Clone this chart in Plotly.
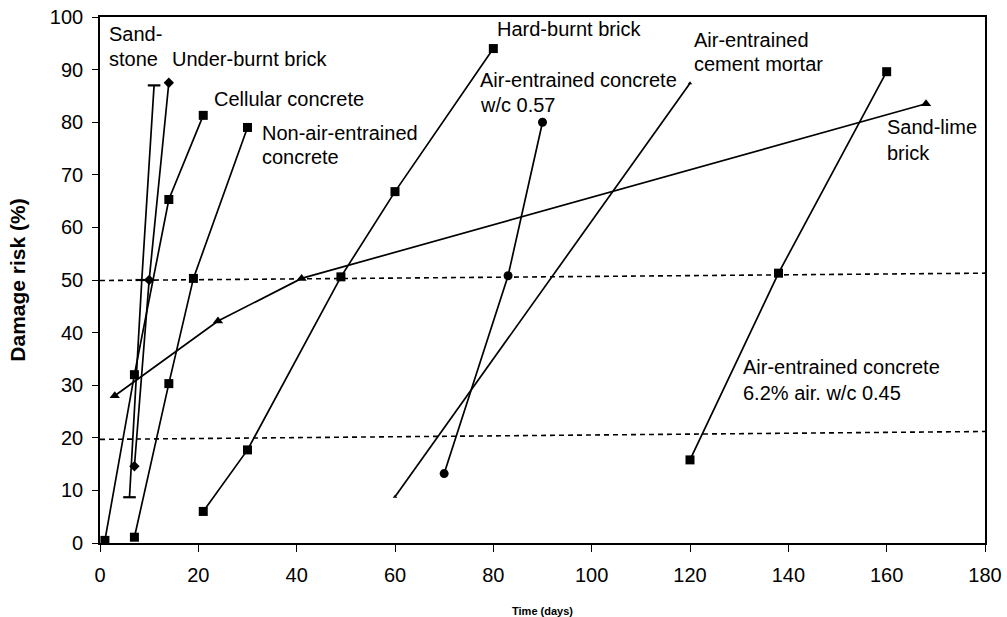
import plotly.graph_objects as go

# ---- data (time in days, damage risk in %) ----
sandstone_x = [6, 8.5, 11]
sandstone_y = [8.7, 50, 87]

underburnt_x = [7, 10, 14]
underburnt_y = [14.6, 50, 87.5]

cellular_x = [1, 7, 14, 21]
cellular_y = [0.5, 32, 65.3, 81.3]

nonair_x = [7, 14, 19, 30]
nonair_y = [1.1, 30.3, 50.3, 79]

sandlime_x = [3, 24, 41, 168]
sandlime_y = [28, 42.2, 50.3, 83.5]

hardburnt_x = [21, 30, 49, 60, 80]
hardburnt_y = [6, 17.7, 50.6, 66.8, 94]

ae057_x = [70, 83, 90]
ae057_y = [13.2, 50.8, 80]

mortar_x = [60, 120]
mortar_y = [8.8, 87.4]

ae045_x = [120, 138, 160]
ae045_y = [15.8, 51.3, 89.6]

thr_x = [0, 180]
thr50_y = [49.9, 51.3]
thr20_y = [19.7, 21.2]

x_ticks = [0, 20, 40, 60, 80, 100, 120, 140, 160, 180]
y_ticks = [0, 10, 20, 30, 40, 50, 60, 70, 80, 90, 100]

FONT = "Liberation Sans, Arial, sans-serif"
LW = 1.7

fig = go.Figure()

# threshold dashed lines
for ty in (thr50_y, thr20_y):
    fig.add_trace(go.Scatter(x=thr_x, y=ty, mode="lines",
                             line=dict(color="black", width=1.6, dash="5px,4px"),
                             hoverinfo="skip"))

def series(x, y, symbol, size, mline=None):
    m = dict(symbol=symbol, size=size, color="black")
    if mline:
        m["line"] = mline
    fig.add_trace(go.Scatter(x=x, y=y, mode="lines+markers",
                             line=dict(color="black", width=LW), marker=m))

series(sandstone_x, sandstone_y, "line-ew", 9, dict(color="black", width=2.2))
series(underburnt_x, underburnt_y, "diamond", 8)
series(cellular_x, cellular_y, "square", 9)
series(nonair_x, nonair_y, "square", 9)
series(sandlime_x, sandlime_y, "triangle-up", 9)
series(hardburnt_x, hardburnt_y, "square", 9)
series(ae057_x, ae057_y, "circle", 9)
series(mortar_x, mortar_y, "triangle-up", 4)
series(ae045_x, ae045_y, "square", 9)

labels = [
    (1.4, 96.8, "Sand-"), (1.4, 92.0, "stone"),
    (14.2, 92.0, "Under-burnt brick"),
    (22.7, 84.5, "Cellular concrete"),
    (32.5, 78.0, "Non-air-entrained"), (32.5, 73.4, "concrete"),
    (80.4, 97.7, "Hard-burnt brick"),
    (76.8, 88.0, "Air-entrained concrete"), (76.8, 83.2, "w/c 0.57"),
    (120.4, 95.6, "Air-entrained"), (120.4, 91.0, "cement mortar"),
    (159.6, 79.0, "Sand-lime"), (159.6, 74.1, "brick"),
    (130.4, 33.4, "Air-entrained concrete"), (130.4, 28.6, "6.2% air. w/c 0.45"),
]
for lx, ly, txt in labels:
    fig.add_annotation(x=lx, y=ly, text=txt, showarrow=False,
                       xanchor="left", yanchor="middle",
                       font=dict(family=FONT, size=20, color="black"))

fig.update_layout(
    width=1007, height=617,
    margin=dict(l=100, r=22, t=17, b=74),
    paper_bgcolor="white", plot_bgcolor="white",
    showlegend=False,
    font=dict(family=FONT, color="black"),
)
fig.update_xaxes(range=[0, 180], tickvals=x_ticks, ticks="outside", ticklen=7,
                 tickwidth=1.3, tickcolor="black", automargin=False,
                 showline=True, linecolor="black", linewidth=1.6, mirror=True,
                 showgrid=False, zeroline=False,
                 tickfont=dict(family=FONT, size=20), ticklabelstandoff=6,
                 title=dict(text="<b>Time (days)</b>", font=dict(family=FONT, size=11),
                            standoff=23))
fig.update_yaxes(range=[0, 100], tickvals=y_ticks, ticks="outside", ticklen=6,
                 tickwidth=1.3, tickcolor="black", automargin=False,
                 showline=True, linecolor="black", linewidth=1.6, mirror=True,
                 showgrid=False, zeroline=False,
                 tickfont=dict(family=FONT, size=20), ticklabelstandoff=5,
                 title=dict(text="<b>Damage risk (%)</b>", font=dict(family=FONT, size=21),
                            standoff=18))

fig.write_html("out.html", config={"displayModeBar": False},
               post_script="document.body.style.margin='0';")
